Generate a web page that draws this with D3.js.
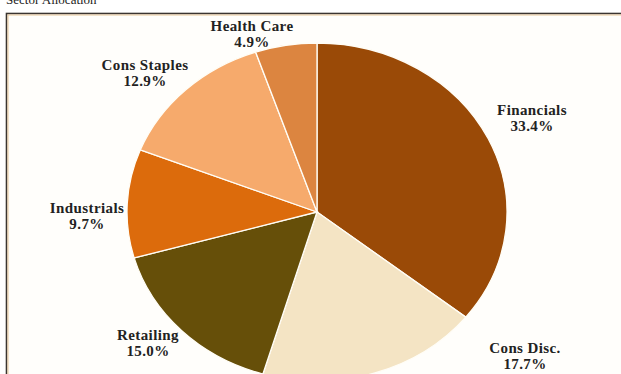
<!DOCTYPE html>
<html>
<head>
<meta charset="utf-8">
<script src="https://cdn.jsdelivr.net/npm/d3@7"></script>
<style>
  html, body { margin: 0; padding: 0; background: #ffffff; }
  svg { display: block; }
  text { font-family: "Liberation Serif", "DejaVu Serif", serif; fill: #222; }
</style>
</head>
<body>
<svg id="chart" width="621" height="374"></svg>
<script>
// Sector weights, clockwise from 12 o'clock
const sectors = ["Financials", "Cons Disc.", "Retailing", "Industrials", "Cons Staples", "Health Care"];
const weights = [33.4, 17.7, 15.0, 9.7, 12.9, 4.9];
const sliceColors = ["#9a4a07", "#f4e4c4", "#664f09", "#dc6b0c", "#f6aa6c", "#dc8540"];
// Label anchor points (centre of the two-line label)
const labelX = [532, 525, 148, 87, 145, 252];
const labelY = [119, 357, 344, 217, 74, 35];

const svg = d3.select("#chart");

// Title (sits partly above the page edge)
svg.append("text")
  .attr("x", 6).attr("y", 4)
  .attr("font-size", 13)
  .text("Sector Allocation");

// Panel frame
svg.append("rect")
  .attr("x", 6.5).attr("y", 13.5)
  .attr("width", 660).attr("height", 400)
  .attr("fill", "#fffefb")
  .attr("stroke", "#3b3530").attr("stroke-width", 1.6);
svg.append("rect")
  .attr("x", 8).attr("y", 15)
  .attr("width", 660).attr("height", 400)
  .attr("fill", "none")
  .attr("stroke", "#e8c89a").attr("stroke-width", 1);

const cx = 317, cy = 212, r = 169, stretchX = 190 / 169;

const pie = d3.pie().sort(null).value(d => d);
const arc = d3.arc().innerRadius(0).outerRadius(r);

const g = svg.append("g")
  .attr("transform", `translate(${cx},${cy}) scale(${stretchX},1)`);

g.selectAll("path")
  .data(pie(weights))
  .join("path")
  .attr("d", arc)
  .attr("fill", (d, i) => sliceColors[i])
  .attr("stroke", "#fffdf6")
  .attr("stroke-width", 1.3)
  .attr("vector-effect", "non-scaling-stroke");

const labels = svg.append("g")
  .selectAll("text")
  .data(sectors)
  .join("text")
  .attr("text-anchor", "middle")
  .attr("font-weight", "bold")
  .attr("font-size", 15)
  .attr("letter-spacing", 0.4)
  .attr("transform", (d, i) => `translate(${labelX[i]},${labelY[i]})`);

labels.append("tspan")
  .attr("x", 0).attr("dy", -4)
  .text(d => d);
labels.append("tspan")
  .attr("x", 0).attr("dy", 16)
  .text((d, i) => weights[i].toFixed(1) + "%");
</script>
</body>
</html>
